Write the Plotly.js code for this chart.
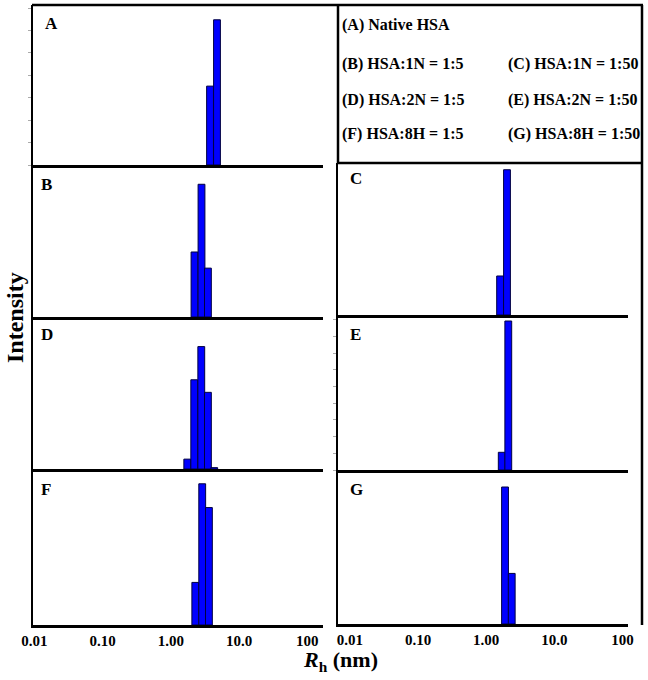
<!DOCTYPE html>
<html>
<head>
<meta charset="utf-8">
<script src="https://cdn.plot.ly/plotly-3.0.1.min.js"></script>
<style>html,body{margin:0;padding:0;background:#fff;}#chart{width:648px;height:680px;}</style>
</head>
<body>
<div id="chart"></div>
<script>
// ---- Data (Rh bin centres in nm, intensity in arbitrary %) ----
const tickValuesNm = [0.01, 0.1, 1, 10, 100];
const tickLabels = ["0.01", "0.10", "1.00", "10.0", "100"];

const rhA = [3.75, 4.74];
const intA = [17.6, 32.4];
const rhB = [2.22, 2.81, 3.49];
const intB = [14.5, 29.6, 10.9];
const rhC = [1.60, 2.02];
const intC = [8.7, 32.4];
const rhD = [1.74, 2.20, 2.79, 3.49, 4.32];
const intD = [2.2, 19.9, 27.3, 17.1, 0.3];
const rhE = [1.69, 2.11];
const intE = [5.3, 44.6];
const rhF = [2.28, 2.88, 3.61];
const intF = [9.5, 31.5, 26.2];
const rhG = [1.89, 2.37];
const intG = [30.6, 11.3];

const panelLetters = ["A", "B", "C", "D", "E", "F", "G"];
const legendLines = [
  ["(A) Native HSA", ""],
  ["(B) HSA:1N = 1:5", "(C) HSA:1N = 1:50"],
  ["(D) HSA:2N = 1:5", "(E) HSA:2N = 1:50"],
  ["(F) HSA:8H = 1:5", "(G) HSA:8H = 1:50"]
];

// ---- Layout helpers ----
const W = 648, H = 680;
const px = x => x / W;
const py = y => 1 - y / H;
const FONT = "Liberation Serif, Times New Roman, serif";

const LR = [-2.02, 2.229];
const RR = [-2.176, 2.082];
const panels = [
  {rh: rhA, v: intA, xd: [33, 323], yd: [5, 165], xr: LR, yr: [0, 35.7], ticks: true, labels: false, lx: 43, ly: 24},
  {rh: rhB, v: intB, xd: [33, 323], yd: [165, 317], xr: LR, yr: [0, 33.9], ticks: false, labels: false, lx: 39, ly: 185},
  {rh: rhC, v: intC, xd: [338, 628], yd: [163, 315], xr: RR, yr: [0, 33.9], ticks: false, labels: false, lx: 348, ly: 179},
  {rh: rhD, v: intD, xd: [33, 323], yd: [317, 469], xr: LR, yr: [0, 33.9], ticks: false, labels: false, lx: 39, ly: 334},
  {rh: rhE, v: intE, xd: [338, 628], yd: [315, 470], xr: RR, yr: [0, 46.4], ticks: true, labels: false, lx: 348, ly: 334},
  {rh: rhF, v: intF, xd: [33, 323], yd: [469, 625], xr: LR, yr: [0, 34.8], ticks: false, labels: true, lx: 39, ly: 489},
  {rh: rhG, v: intG, xd: [338, 628], yd: [470, 624], xr: RR, yr: [0, 34.4], ticks: false, labels: true, lx: 348, ly: 489}
];

const traces = [];
const layout = {
  width: W, height: H,
  margin: {l: 0, r: 0, t: 0, b: 0},
  paper_bgcolor: "#fff", plot_bgcolor: "rgba(0,0,0,0)",
  showlegend: false,
  bargap: 0,
  font: {family: FONT, color: "#000"},
  annotations: [],
  shapes: []
};

panels.forEach((p, i) => {
  const n = i === 0 ? "" : String(i + 1);
  traces.push({
    type: "bar",
    x: p.rh.map(v => Math.log10(v)),
    y: p.v,
    width: p.rh.map(() => 0.1),
    marker: {color: "#0000ff", line: {color: "#000040", width: 1}},
    xaxis: "x" + n, yaxis: "y" + n,
    hoverinfo: "skip"
  });
  layout["xaxis" + n] = {
    domain: [px(p.xd[0]), px(p.xd[1])],
    anchor: "y" + n,
    range: p.xr,
    showline: true, linecolor: "#000", linewidth: 2.5,
    showgrid: false, zeroline: false, ticks: "",
    tickmode: "array",
    tickvals: tickValuesNm.map(v => Math.log10(v)),
    ticktext: tickLabels.map(t => "<b>" + t + "</b>"),
    showticklabels: p.labels,
    tickfont: {family: FONT, size: 15, color: "#000"},
    fixedrange: true
  };
  layout["yaxis" + n] = {
    domain: [py(p.yd[1]), py(p.yd[0])],
    anchor: "x" + n,
    range: p.yr,
    showline: true, linecolor: "#000", linewidth: 2.5,
    showgrid: false, zeroline: false,
    ticks: p.ticks ? "outside" : "", ticklen: 3, tickwidth: 1, tickcolor: "#aaa",
    dtick: 5, tick0: 0,
    showticklabels: false,
    fixedrange: true
  };
  layout.annotations.push({
    xref: "paper", yref: "paper", x: px(p.lx), y: py(p.ly),
    xanchor: "left", yanchor: "middle", showarrow: false,
    text: "<b>" + panelLetters[i] + "</b>",
    font: {family: FONT, size: 17, color: "#000"}
  });
});

// legend text box
const legendRowsY = [25.5, 63.5, 99.5, 134.5];
const legendColsX = [340, 506];
legendLines.forEach((row, r) => {
  row.forEach((txt, c) => {
    if (!txt) return;
    layout.annotations.push({
      xref: "paper", yref: "paper", x: px(legendColsX[c]), y: py(legendRowsY[r]),
      xanchor: "left", yanchor: "middle", showarrow: false,
      text: "<b>" + txt + "</b>",
      font: {family: FONT, size: 16, color: "#000"}
    });
  });
});

// axis titles
layout.annotations.push({
  xref: "paper", yref: "paper", x: px(15), y: py(318),
  xanchor: "center", yanchor: "middle", showarrow: false, textangle: -90,
  text: "<b>Intensity</b>",
  font: {family: FONT, size: 24, color: "#000"}
});
layout.annotations.push({
  xref: "paper", yref: "paper", x: px(340), y: py(661),
  xanchor: "center", yanchor: "middle", showarrow: false,
  text: "<b><i>R</i><sub>h</sub> (nm)</b>",
  font: {family: FONT, size: 22, color: "#000"}
});

// frame lines
const lineStyle = {color: "#000", width: 2.5};
layout.shapes.push(
  {type: "line", xref: "paper", yref: "paper", x0: px(32), x1: px(643), y0: py(5), y1: py(5), line: lineStyle},
  {type: "line", xref: "paper", yref: "paper", x0: px(642), x1: px(642), y0: py(5), y1: py(625), line: lineStyle},
  {type: "line", xref: "paper", yref: "paper", x0: px(338), x1: px(338), y0: py(5), y1: py(163), line: lineStyle},
  {type: "line", xref: "paper", yref: "paper", x0: px(338), x1: px(642), y0: py(163), y1: py(163), line: lineStyle}
);

Plotly.newPlot("chart", traces, layout, {displayModeBar: false, staticPlot: true});
</script>
</body>
</html>
